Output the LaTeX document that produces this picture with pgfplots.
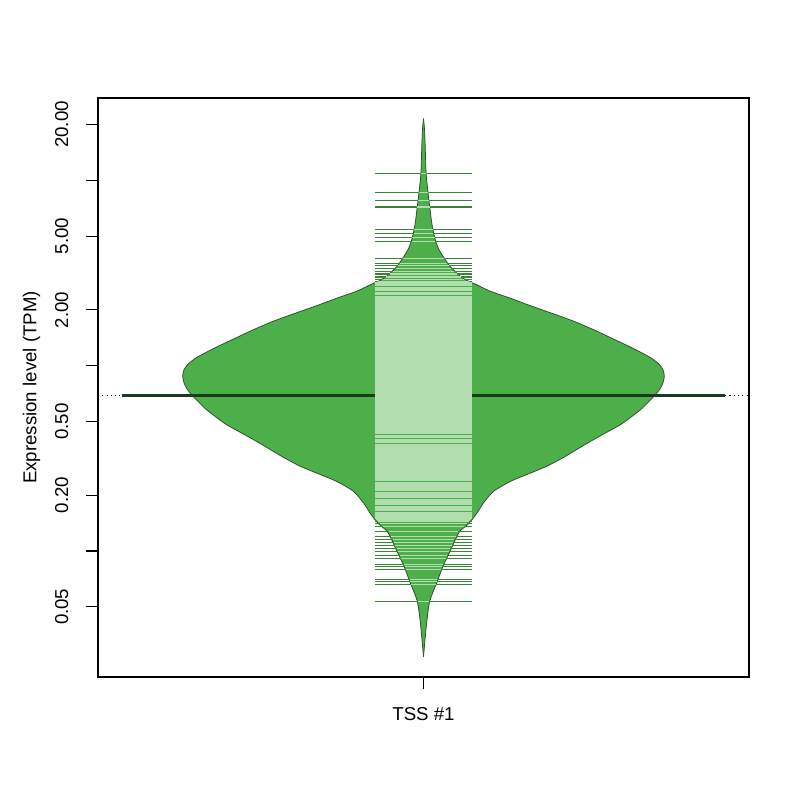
\documentclass[border=0pt]{standalone}
\usepackage{fontspec}
\setmainfont{Liberation Sans}
\usepackage{pgfplots}
\usepackage{pgfplotstable}
\pgfplotsset{compat=1.18}
\usepgfplotslibrary{fillbetween}

\definecolor{beanfill}{HTML}{4DAF4A}
\definecolor{beanlight}{HTML}{B2DEAF}
\definecolor{beandark}{HTML}{3A843A}
\definecolor{beanedge}{HTML}{2A4A2A}
\definecolor{avgline}{HTML}{1C3A1C}

% bean outline: value (TPM) and half width (x units)
\pgfplotstableread{
y w
21.53 0
18.77 0.0017
14.64 0.0030
10.91 0.0043
8.58 0.0075
7.21 0.0103
6.14 0.0129
5.42 0.0156
4.69 0.0202
4.227 0.0257
3.78 0.0348
3.46 0.0431
3.22 0.0523
3.06 0.0597
2.91 0.0697
2.840 0.0763
2.736 0.0879
2.518 0.1111
2.320 0.1427
2.134 0.1725
2.005 0.1958
1.845 0.2273
1.721 0.2522
1.564 0.2820
1.416 0.3102
1.282 0.3384
1.190 0.3583
1.105 0.3766
1.025 0.3898
0.9515 0.3973
0.8756 0.3995
0.8067 0.3973
0.7422 0.3915
0.6888 0.3832
0.6291 0.3716
0.5787 0.3600
0.5306 0.3451
0.4803 0.3268
0.4333 0.3019
0.3904 0.2770
0.3521 0.2538
0.3176 0.2306
0.2861 0.2040
0.2581 0.1709
0.2375 0.1443
0.2098 0.1161
0.1816 0.0995
0.1604 0.0888
0.1475 0.0805
0.1386 0.0730
0.1271 0.0597
0.1109 0.0506
0.1029 0.0461
0.0909 0.0382
0.0823 0.0320
0.0683 0.0227
0.0539 0.0105
0.0426 0.0058
0.0332 0.0025
0.0269 0
}\beanshape

% bean lines in the tails: value and half width inside the bean
\pgfplotstableread{
y w
10.91 0.0041
8.58 0.0072
7.77 0.0088
7.19 0.0100
5.44 0.0150
5.16 0.0165
4.91 0.0183
4.69 0.0196
3.78 0.0337
3.55 0.0395
3.46 0.0418
3.34 0.0463
3.23 0.0503
3.13 0.0549
3.00 0.0620
2.91 0.0676
2.83 0.0752
0.148 0.0790
0.146 0.0770
0.144 0.0755
0.1404 0.0720
0.1353 0.0670
0.1271 0.0580
0.1195 0.0538
0.1151 0.0514
0.1109 0.0490
0.1068 0.0469
0.1029 0.0447
0.0991 0.0424
0.0943 0.0394
0.0909 0.0370
0.0844 0.0325
0.0823 0.0310
0.0793 0.0292
0.0700 0.0232
0.0683 0.0220
0.0658 0.0206
0.0533 0.0099
}\tailtab

% bean lines lying fully inside the bean
\pgfplotstableread{
y
2.79
2.75
2.71
2.64
2.60
2.56
2.48
2.44
2.36
2.33
2.30
2.27
2.24
2.18
2.15
2.12
2.09
2.06
2.03
2.00
1.97
1.94
1.91
1.88
1.85
1.82
1.80
1.77
1.75
1.72
1.70
1.67
1.65
1.62
1.60
1.58
1.56
1.54
1.52
1.50
1.48
1.46
1.44
1.42
1.40
1.38
1.36
1.34
1.32
1.30
1.28
1.26
1.24
1.22
1.20
1.18
1.17
1.15
1.13
1.11
1.10
1.08
1.07
1.05
1.04
1.02
1.01
1.00
0.985
0.97
0.955
0.94
0.925
0.91
0.90
0.885
0.87
0.86
0.845
0.83
0.82
0.81
0.80
0.79
0.78
0.77
0.76
0.75
0.74
0.73
0.72
0.71
0.70
0.69
0.68
0.67
0.66
0.65
0.64
0.63
0.62
0.61
0.60
0.59
0.58
0.57
0.565
0.555
0.545
0.535
0.525
0.52
0.51
0.50
0.495
0.485
0.48
0.47
0.465
0.455
0.45
0.44
0.435
0.43
0.42
0.415
0.41
0.40
0.395
0.39
0.385
0.375
0.37
0.365
0.36
0.355
0.35
0.345
0.34
0.335
0.33
0.325
0.32
0.315
0.31
0.305
0.30
0.296
0.292
0.288
0.284
0.28
0.276
0.272
0.268
0.264
0.26
0.256
0.252
0.248
0.244
0.24
0.232
0.228
0.225
0.222
0.219
0.216
0.213
0.207
0.204
0.201
0.198
0.195
0.189
0.186
0.183
0.18
0.178
0.173
0.17
0.168
0.165
0.16
0.158
0.156
0.154
0.152
0.150
}\innertab

\begin{document}
\begin{tikzpicture}
\begin{axis}[
    at={(0,0)}, anchor=south west,
    scale only axis,
    width=488.25pt, height=434.25pt,
    xmin=0.46, xmax=1.54,
    ymode=log,
    ymin=0.0209, ymax=27.8,
    axis line style={line width=0.8pt},
    tick pos=left,
    tick align=outside,
    major tick length=9pt,
    every tick/.style={black, line width=0.8pt},
    yminorticks=false,
    xtick={1},
    xticklabels={TSS \#1},
    ytick={0.05,0.1,0.2,0.5,1,2,5,10,20},
    yticklabels={0.05,,0.20,0.50,,2.00,5.00,,20.00},
    tick label style={font=\fontsize{14}{16}\selectfont},
    label style={font=\fontsize{14}{16}\selectfont},
    yticklabel style={rotate=90, anchor=base, yshift=13.5pt},
    xticklabel style={anchor=base, yshift=-23.5pt},
    ylabel={Expression level (TPM)},
    ylabel style={at={(axis description cs:-0.0947,0.5)}, anchor=base, rotate=0},
]
% overall line, dotted across the plot
\addplot[black, line width=0.8pt, dash pattern=on 0.8pt off 2.4pt]
    coordinates {(0.46,0.69) (1.54,0.69)};
% bean outline
\addplot[name path=L, beanedge, line width=0.55pt, smooth, tension=0.4]
    table[x expr=1-\thisrow{w}, y=y] {\beanshape};
\addplot[name path=R, beanedge, line width=0.55pt, smooth, tension=0.4]
    table[x expr=1+\thisrow{w}, y=y] {\beanshape};
\addplot[beanfill, draw=none] fill between[of=L and R];
% bean average
\addplot[avgline, line width=1.6pt] coordinates {(0.5,0.69) (1.5,0.69)};
% bean lines: outside parts dark, inside parts light
\addplot[draw=none, mark=none,
    error bars/.cd, x dir=both, x fixed=0.081, error mark=none,
    error bar style={draw=beandark, line width=1.1pt}]
    table[x expr=1, y=y] {\tailtab};
\addplot[draw=none, mark=none,
    error bars/.cd, x dir=both, x explicit, error mark=none,
    error bar style={draw=beanlight, line width=1.1pt}]
    table[x expr=1, y=y, x error=w] {\tailtab};
\addplot[draw=none, mark=none,
    error bars/.cd, x dir=both, x fixed=0.081, error mark=none,
    error bar style={draw=beanlight, line width=1.2pt}]
    table[x expr=1, y=y] {\innertab};
\end{axis}
\path (-73.5pt,-92.25pt) rectangle (526.5pt,507.75pt);
\end{tikzpicture}
\end{document}
